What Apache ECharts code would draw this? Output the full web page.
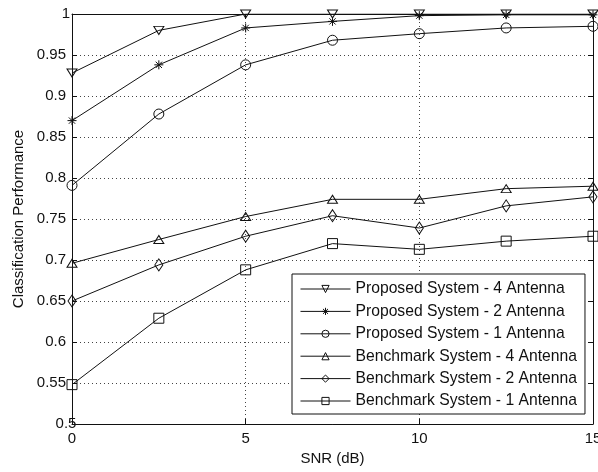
<!DOCTYPE html>
<html>
<head>
<meta charset="utf-8">
<script src="https://cdn.jsdelivr.net/npm/echarts@6/dist/echarts.min.js"></script>
<style>
html,body{margin:0;padding:0;background:#fff;}
#c{width:598px;height:472px;}
</style>
</head>
<body>
<div id="c"></div>
<script>
var snr = [0, 2.5, 5, 7.5, 10, 12.5, 15];
var seriesNames = [
  'Proposed System - 4 Antenna',
  'Proposed System - 2 Antenna',
  'Proposed System - 1 Antenna',
  'Benchmark System - 4 Antenna',
  'Benchmark System - 2 Antenna',
  'Benchmark System - 1 Antenna'
];
var proposed4 = [0.928, 0.980, 1.000, 1.000, 1.000, 1.000, 1.000];
var proposed2 = [0.870, 0.938, 0.983, 0.991, 0.998, 0.999, 0.999];
var proposed1 = [0.791, 0.878, 0.938, 0.968, 0.976, 0.983, 0.985];
var bench4 = [0.696, 0.725, 0.753, 0.774, 0.774, 0.787, 0.790];
var bench2 = [0.650, 0.694, 0.729, 0.754, 0.739, 0.766, 0.777];
var bench1 = [0.548, 0.629, 0.688, 0.720, 0.713, 0.723, 0.729];
var yTicks = [0.5, 0.55, 0.6, 0.65, 0.7, 0.75, 0.8, 0.85, 0.9, 0.95, 1];
var xTicks = [0, 5, 10, 15];

var symbols = [
  'path://M0,0L10,0L5,8Z',
  'path://M5,0L5,10M0,5L10,5M1.5,1.5L8.5,8.5M8.5,1.5L1.5,8.5',
  'circle',
  'path://M5,0L10,8L0,8Z',
  'path://M5,0L10,6.5L5,13L0,6.5Z',
  'rect'
];
var sizes = [[10, 8], [9, 9], [10, 10], [10, 8], [8, 12], [10, 10]];
var allData = [proposed4, proposed2, proposed1, bench4, bench2, bench1];

function pairs(vals) {
  return snr.map(function (x, i) { return [x, vals[i]]; });
}

var series = allData.map(function (vals, k) {
  return {
    name: seriesNames[k],
    type: 'line',
    data: pairs(vals),
    symbol: symbols[k],
    symbolSize: sizes[k],
    showAllSymbol: true,
    lineStyle: { color: '#111', width: 1 },
    itemStyle: { color: 'rgba(255,255,255,0)', borderColor: '#111', borderWidth: 1 },
    emphasis: { disabled: true },
    animation: false,
    z: 3
  };
});

var font = 'Liberation Sans, Arial, sans-serif';
var gridDots = { color: '#444', width: 1, type: [1, 3] };

var option = {
  animation: false,
  backgroundColor: '#fff',
  grid: { left: 72, right: 5, top: 14, bottom: 48, containLabel: false, outerBoundsMode: 'none' },
  legend: {
    orient: 'vertical',
    left: 292,
    top: 274,
    padding: [7, 8, 5, 8],
    backgroundColor: '#fff',
    borderColor: '#111',
    borderWidth: 1,
    borderRadius: 0,
    itemWidth: 50,
    itemHeight: 9,
    itemGap: 6.4,
    itemStyle: { color: 'rgba(255,255,255,0)', borderColor: '#111', borderWidth: 1 },
    lineStyle: { color: '#111', width: 1 },
    textStyle: { fontFamily: font, fontSize: 15.7, lineHeight: 16, color: '#111' },
    data: seriesNames,
    selectedMode: false
  },
  xAxis: [{
    type: 'value',
    min: 0, max: 15, interval: 5,
    name: 'SNR (dB)',
    nameLocation: 'middle',
    nameGap: 24,
    nameTextStyle: { fontFamily: font, fontSize: 15, color: '#111' },
    axisLine: { show: true, onZero: false, lineStyle: { color: '#111', width: 1 } },
    axisTick: { show: true, inside: true, length: 5, lineStyle: { color: '#111' } },
    axisLabel: { fontFamily: font, fontSize: 15, color: '#111', margin: 7, alignMaxLabel: 'center', alignMinLabel: 'center' },
    splitLine: { show: true, lineStyle: gridDots }
  }, {
    type: 'value',
    position: 'top',
    min: 0, max: 15, interval: 5,
    axisLine: { show: true, onZero: false, lineStyle: { color: '#111', width: 1 } },
    axisTick: { show: true, inside: true, length: 5, lineStyle: { color: '#111' } },
    axisLabel: { show: false },
    splitLine: { show: false }
  }],
  yAxis: [{
    type: 'value',
    min: 0.5, max: 1, interval: 0.05,
    name: 'Classification Performance',
    nameLocation: 'middle',
    nameGap: 45,
    nameTextStyle: { fontFamily: font, fontSize: 15, color: '#111' },
    axisLine: { show: true, onZero: false, lineStyle: { color: '#111', width: 1 } },
    axisTick: { show: true, inside: true, length: 5, lineStyle: { color: '#111' } },
    axisLabel: { fontFamily: font, fontSize: 15, color: '#111', margin: 6, alignMaxLabel: 'middle', alignMinLabel: 'middle' },
    splitLine: { show: true, lineStyle: gridDots }
  }, {
    type: 'value',
    position: 'right',
    min: 0.5, max: 1, interval: 0.05,
    axisLine: { show: true, onZero: false, lineStyle: { color: '#111', width: 1 } },
    axisTick: { show: true, inside: true, length: 5, lineStyle: { color: '#111' } },
    axisLabel: { show: false },
    splitLine: { show: false }
  }],
  series: series
};

var chart = echarts.init(document.getElementById('c'), null, { renderer: 'canvas' });
chart.setOption(option);
</script>
</body>
</html>
